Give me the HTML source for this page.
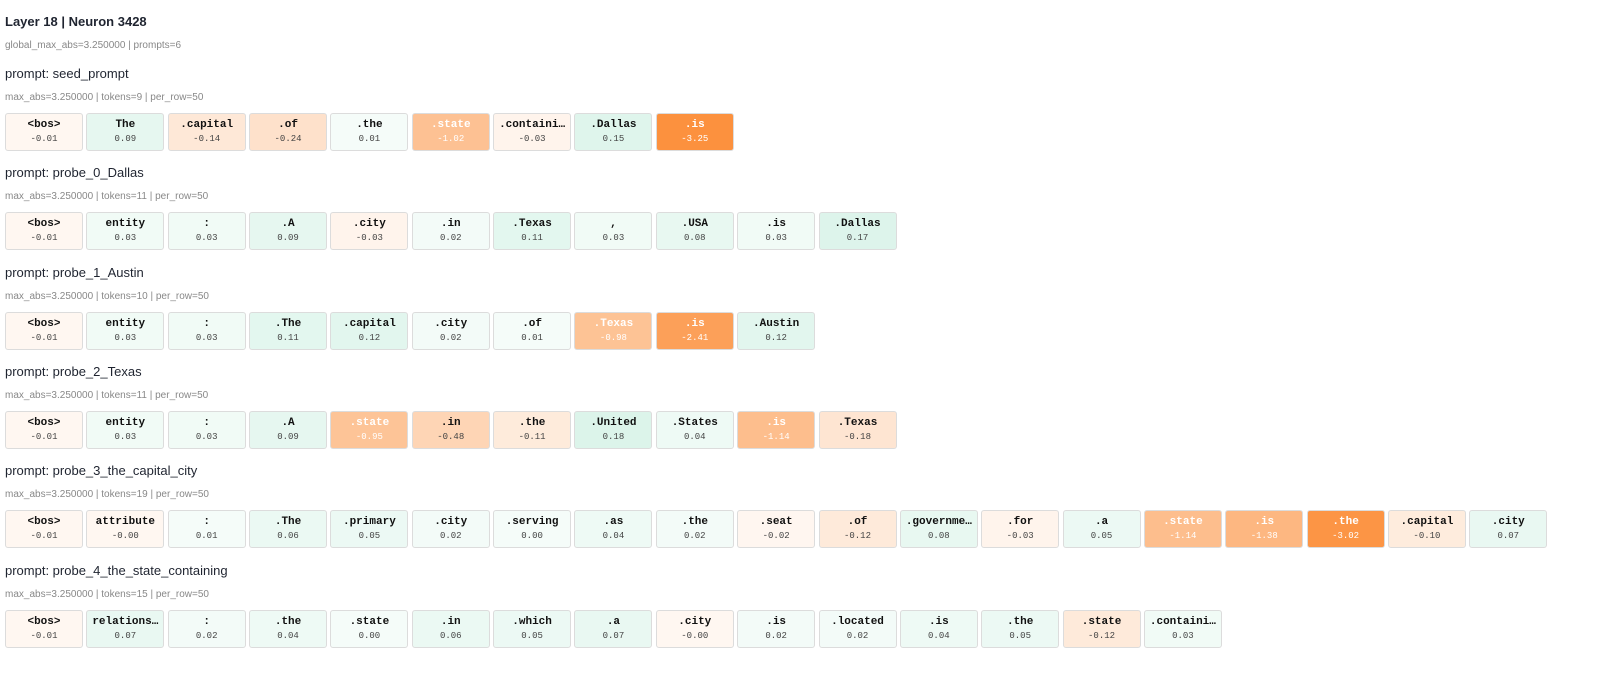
<!DOCTYPE html>
<html><head><meta charset="utf-8"><style>
body{margin:0;background:#fff;width:1600px;height:686px;overflow:hidden;font-family:"Liberation Sans",sans-serif;color:#222}
#root{position:absolute;left:5px;top:0}
.title{position:absolute;left:0;top:14px;font-size:13px;font-weight:bold;color:#1f2430;white-space:nowrap}
.sub{position:absolute;font-size:10px;color:#888;white-space:nowrap}
.ph{position:absolute;font-size:13px;color:#1f2430;white-space:nowrap}
.tile{position:absolute;width:76px;height:36px;border:1px solid #dcdcdc;border-radius:3px;text-align:center;font-family:"Liberation Mono",monospace}
.tk{font-size:11px;font-weight:bold;margin-top:5px;white-space:nowrap;overflow:hidden}
.vl{font-size:9px;margin-top:3px;color:#444}
</style></head><body>
<div id="root">
<div class="title">Layer 18 | Neuron 3428</div>
<div class="sub" style="top:40px">global_max_abs=3.250000 | prompts=6</div>
</div>
<script>
const maxAbs = 3.25;
const promptNames = ["seed_prompt","probe_0_Dallas","probe_1_Austin","probe_2_Texas","probe_3_the_capital_city","probe_4_the_state_containing"];
const tokens0 = ["<bos>","The",".capital",".of",".the",".state",".containi…",".Dallas",".is"];
const values0 = [-0.01,0.09,-0.14,-0.24,0.01,-1.02,-0.03,0.15,-3.25];
const tokens1 = ["<bos>","entity",":",".A",".city",".in",".Texas",",",".USA",".is",".Dallas"];
const values1 = [-0.01,0.03,0.03,0.09,-0.03,0.02,0.11,0.03,0.08,0.03,0.17];
const tokens2 = ["<bos>","entity",":",".The",".capital",".city",".of",".Texas",".is",".Austin"];
const values2 = [-0.01,0.03,0.03,0.11,0.12,0.02,0.01,-0.98,-2.41,0.12];
const tokens3 = ["<bos>","entity",":",".A",".state",".in",".the",".United",".States",".is",".Texas"];
const values3 = [-0.01,0.03,0.03,0.09,-0.95,-0.48,-0.11,0.18,0.04,-1.14,-0.18];
const tokens4 = ["<bos>","attribute",":",".The",".primary",".city",".serving",".as",".the",".seat",".of",".governme…",".for",".a",".state",".is",".the",".capital",".city"];
const values4 = [-0.01,-0.001,0.01,0.06,0.05,0.02,0.001,0.04,0.02,-0.02,-0.12,0.08,-0.03,0.05,-1.14,-1.38,-3.02,-0.10,0.07];
const tokens5 = ["<bos>","relations…",":",".the",".state",".in",".which",".a",".city",".is",".located",".is",".the",".state",".containi…"];
const values5 = [-0.01,0.07,0.02,0.04,0.001,0.06,0.05,0.07,-0.001,0.02,0.02,0.04,0.05,-0.12,0.03];
const allTokens=[tokens0,tokens1,tokens2,tokens3,tokens4,tokens5];
const allValues=[values0,values1,values2,values3,values4,values5];
function color(v){
  let t=Math.sqrt(Math.min(1,Math.abs(v)/maxAbs));
  t=Math.max(t,0.07);
  const base = v<0?[252,145,62]:[125,215,178];
  if(v>=0)t=Math.min(1,t*1.15);
  return `rgb(${base.map(b=>Math.round(255-(255-b)*t)).join(',')})`;
}
const root=document.getElementById('root');
promptNames.forEach((p,i)=>{
  const y0=66+i*99.3;
  const h=document.createElement('div');h.className='ph';h.style.top=y0+'px';h.textContent='prompt: '+p;
  
  
  root.appendChild(h);
  const m=document.createElement('div');m.className='sub';m.style.top=(y0+26)+'px';
  m.textContent=`max_abs=3.250000 | tokens=${allTokens[i].length} | per_row=50`;
  
  
  root.appendChild(m);
  allTokens[i].forEach((tk,j)=>{
    const v=allValues[i][j];
    const d=document.createElement('div');d.className='tile';
    d.style.left=(j*81.35)+'px';d.style.top=(y0+47)+'px';d.style.background=color(v);
    const white=Math.abs(v)>0.8;
    d.innerHTML=`<div class="tk" style="color:${white?'#fff':'#111'}"></div><div class="vl" style="color:${white?'#fff':'#444'}"></div>`;
    d.children[0].textContent=tk;
    d.children[1].textContent=(v<0?'-':'')+Math.abs(v).toFixed(2);
    
    
    root.appendChild(d);
  });
});
</script>
</body></html>
